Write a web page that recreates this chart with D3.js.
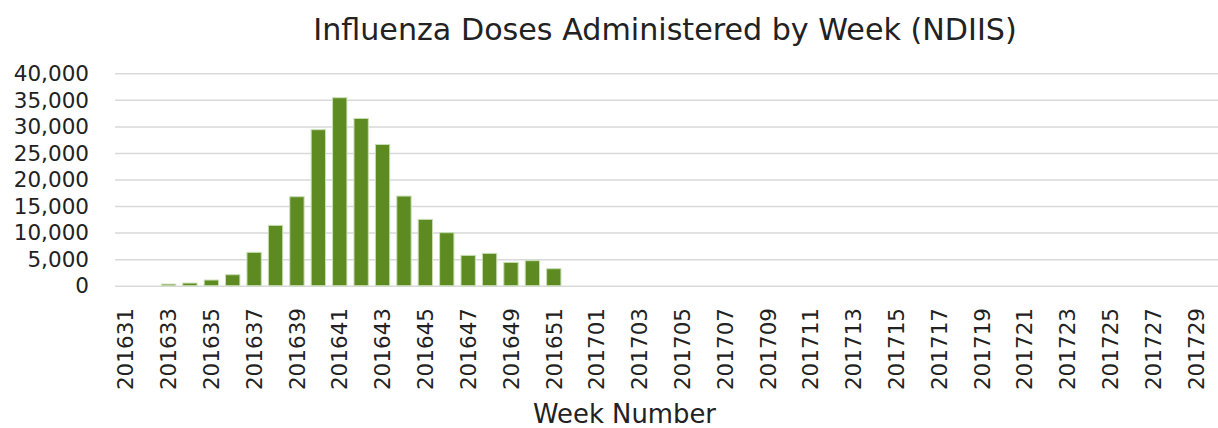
<!DOCTYPE html>
<html>
<head>
<meta charset="utf-8">
<script src="https://cdn.jsdelivr.net/npm/d3@7"></script>
<style>
  body { margin: 0; background: #fff; }
  svg { display: block; font-family: "DejaVu Sans", sans-serif; }
  .grid line { stroke: #d9d9d9; stroke-width: 1.5; }
  .grid .domain { display: none; }
</style>
</head>
<body>
<svg width="1218" height="428"></svg>
<script>

//
// weeks 201631 .. 201652, then 201701 .. 201730
//
var weeks2016 = ['201631','201632','201633','201634','201635','201636','201637','201638',
                 '201639','201640','201641','201642','201643','201644','201645','201646',
                 '201647','201648','201649','201650','201651','201652'];
var weeks2017 = ['201701','201702','201703','201704','201705','201706','201707','201708',
                 '201709','201710','201711','201712','201713','201714','201715','201716',
                 '201717','201718','201719','201720','201721','201722','201723','201724',
                 '201725','201726','201727','201728','201729','201730'];
var weeks = weeks2016.concat(weeks2017);

// doses per week (only the 2016 weeks have data)
var doses = [0, 0, 300, 500, 1070, 2070, 6280, 11360, 16760, 29380, 35400, 31500,
             26600, 16880, 12490, 9980, 5710, 6090, 4390, 4710, 3200, 0];

var yTicks = [0, 5000, 10000, 15000, 20000, 25000, 30000, 35000, 40000];

var svg = d3.select("svg");

var x = d3.scaleBand()
    .domain(weeks)
    .range([115, 1228])
    .paddingInner(0.33)
    .paddingOuter(0.165);

var y = d3.scaleLinear()
    .domain([0, 40000])
    .range([285.7, 73.3]);

// gridlines
svg.append("g")
    .attr("class", "grid")
    .attr("transform", "translate(115,0)")
    .call(d3.axisLeft(y).tickValues(yTicks).tickSize(-1113).tickFormat(""));

// y labels
svg.append("g").selectAll("text")
    .data(yTicks)
  .enter().append("text")
    .attr("x", 89)
    .attr("y", function (d) { return y(d); })
    .attr("dy", "0.36em")
    .attr("text-anchor", "end")
    .style("font-size", "21.5px")
    .style("fill", "#222")
    .text(d3.format(","));

// bars
svg.append("g").selectAll("rect")
    .data(weeks2016.map(function (w, i) { return {week: w, value: doses[i]}; })
                   .filter(function (d) { return d.value > 0; }))
  .enter().append("rect")
    .attr("x", function (d) { return x(d.week); })
    .attr("width", x.bandwidth())
    .attr("y", function (d) { return y(d.value); })
    .attr("height", function (d) { return y(0) - y(d.value); })
    .style("fill", "#5d8b22")
    .style("stroke", "#c9dfb4")
    .style("stroke-width", 1);

// x tick labels, every other week
svg.append("g").selectAll("text")
    .data(weeks.filter(function (w, i) { return i % 2 === 0; }))
  .enter().append("text")
    .attr("transform", function (d) {
      return "translate(" + (x(d) + x.bandwidth() / 2) + ",308) rotate(-90)";
    })
    .attr("dy", "0.36em")
    .attr("text-anchor", "end")
    .style("font-size", "21.5px")
    .style("fill", "#222")
    .text(function (d) { return d; });

//
// titles, sized to the width they take in the picture
//
function fitText(sel, width) {
  var w = sel.node().getComputedTextLength();
  var size = parseFloat(sel.style("font-size"));
  sel.style("font-size", (size * width / w) + "px");
}

var title = svg.append("text")
    .attr("x", 665)
    .attr("y", 40)
    .attr("text-anchor", "middle")
    .style("font-size", "28px")
    .style("fill", "#222")
    .text("Influenza Doses Administered by Week (NDIIS)");
fitText(title, 704);

var xTitle = svg.append("text")
    .attr("x", 624.5)
    .attr("y", 423)
    .attr("text-anchor", "middle")
    .style("font-size", "22px")
    .style("fill", "#222")
    .text("Week Number");
fitText(xTitle, 183);

</script>
</body>
</html>
